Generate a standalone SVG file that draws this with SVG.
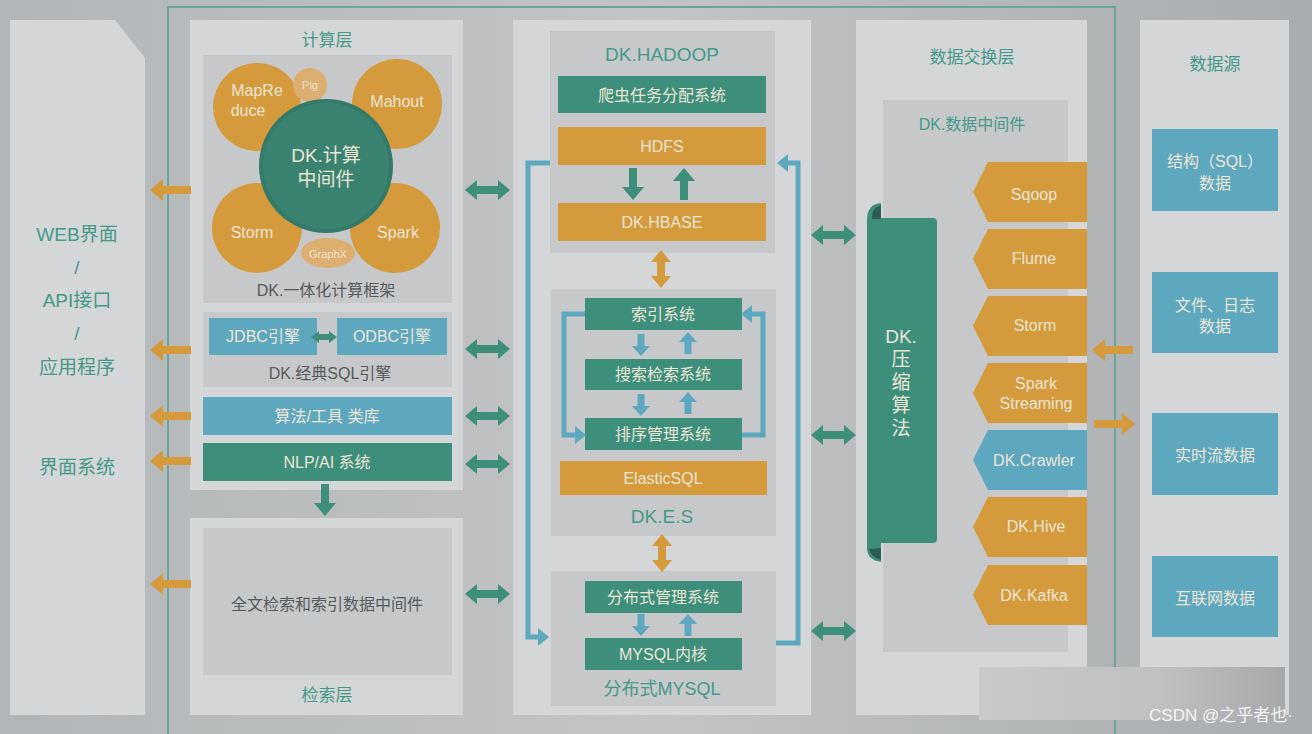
<svg xmlns="http://www.w3.org/2000/svg" width="1312" height="734" viewBox="0 0 1312 734">
<defs>
<linearGradient id="bg" x1="0" y1="0" x2="1" y2="0">
<stop offset="0" stop-color="#b3b6b8"/><stop offset="0.5" stop-color="#c2c4c5"/><stop offset="1" stop-color="#a9acae"/>
</linearGradient>
<linearGradient id="wm" x1="0" y1="0" x2="1" y2="0">
<stop offset="0" stop-color="#c9c9ca"/><stop offset="0.6" stop-color="#bfc0c1"/><stop offset="1" stop-color="#a6a8aa"/>
</linearGradient>
<path id="arrL" d="M0,0 L13,-11 L13,-4 L41,-4 L41,4 L13,4 L13,11 Z"/>
<path id="arrR" d="M0,0 L-13,-11 L-13,-4 L-41,-4 L-41,4 L-13,4 L-13,11 Z"/>
<path id="dbl" d="M0,0 L12,-10 L12,-4 L33,-4 L33,-10 L45,0 L33,10 L33,4 L12,4 L12,10 Z"/>
<path id="dblV" d="M0,0 L10,12 L4,12 L4,26 L10,26 L0,38 L-10,26 L-4,26 L-4,12 L-10,12 Z"/>
<path id="dn" d="M0,0 L-11,-13 L-4,-13 L-4,-32 L4,-32 L4,-13 L11,-13 Z"/>
<path id="up" d="M0,0 L-11,13 L-4,13 L-4,32 L4,32 L4,13 L11,13 Z"/>
<path id="sdn" d="M0,0 L-9,-10 L-3.5,-10 L-3.5,-22 L3.5,-22 L3.5,-10 L9,-10 Z"/>
<path id="sup" d="M0,0 L-9,10 L-3.5,10 L-3.5,22 L3.5,22 L3.5,10 L9,10 Z"/>
<path id="pent" d="M0,0 L15,-30 L114,-30 L114,30 L15,30 Z"/>
</defs>
<style>
text{font-family:"Liberation Sans","Noto Sans CJK SC",sans-serif;text-anchor:middle;dominant-baseline:central}
.panel{fill:#d5d6d7}
.sub{fill:#c6c8ca}
.teal{fill:#3e8e7c}
.org{fill:#d49a3b}
.blue{fill:#5ea8bf}
.tt{fill:#44998a;font-size:17px}
.lt{fill:#ece6d6;font-size:16px}
.dk{fill:#555a5c;font-size:16px}
.blueline{fill:none;stroke:#5ea8bf;stroke-width:5}
</style>
<rect width="1312" height="734" fill="url(#bg)"/>
<rect x="168" y="7" width="947" height="730" fill="none" stroke="#6aa59b" stroke-width="2"/>

<g id="left-panel">
<path class="panel" d="M10,20 L115,20 L145,58 L145,715 L10,715 Z"/>
<text x="77" y="234" class="tt" style="font-size:19px">WEB界面</text>
<text x="77" y="267" class="tt" style="font-size:19px">/</text>
<text x="77" y="300" class="tt" style="font-size:19px">API接口</text>
<text x="77" y="333" class="tt" style="font-size:19px">/</text>
<text x="77" y="367" class="tt" style="font-size:19px">应用程序</text>
<text x="77" y="467" class="tt" style="font-size:19px">界面系统</text>
</g>

<g id="compute-layer">
<rect class="panel" x="190" y="20" width="273" height="470"/>
<text x="327" y="40" class="tt">计算层</text>
<rect class="sub" x="203" y="55" width="249" height="248"/>
<circle class="org" cx="257" cy="107" r="44"/>
<circle class="org" cx="397" cy="104" r="45"/>
<circle class="org" cx="257" cy="228" r="45"/>
<circle class="org" cx="395" cy="228" r="45"/>
<circle cx="310" cy="85" r="17" fill="#dcae70"/>
<ellipse cx="328" cy="253" rx="27" ry="15" fill="#dcae70"/>
<circle cx="326" cy="166" r="67" fill="#347a68"/>
<circle cx="326" cy="166" r="63" fill="#3b8371"/>
<text x="257" y="90" class="lt">MapRe</text>
<text x="248" y="110" class="lt">duce</text>
<text x="310" y="85" style="fill:#efe3cc;font-size:11px">Pig</text>
<text x="397" y="101" class="lt">Mahout</text>
<text x="252" y="232" class="lt">Storm</text>
<text x="398" y="232" class="lt">Spark</text>
<text x="328" y="254" style="fill:#efe3cc;font-size:11px">GraphX</text>
<text x="326" y="155" class="lt" style="font-size:19px">DK.计算</text>
<text x="326" y="179" class="lt" style="font-size:19px">中间件</text>
<text x="326" y="290" class="dk">DK.一体化计算框架</text>
</g>

<g id="sql-engine">
<rect class="sub" x="203" y="312" width="249" height="75"/>
<rect class="blue" x="209" y="318" width="108" height="37"/>
<rect class="blue" x="337" y="318" width="110" height="37"/>
<text x="263" y="336" class="lt">JDBC引擎</text>
<text x="392" y="336" class="lt">ODBC引擎</text>
<text x="330" y="373" class="dk">DK.经典SQL引擎</text>
</g>

<g id="algo-lib">
<rect class="blue" x="203" y="397" width="249" height="38"/>
<text x="327" y="416" class="lt">算法/工具 类库</text>
</g>
<g id="nlp-ai">
<rect class="teal" x="203" y="443" width="249" height="38"/>
<text x="327" y="462" class="lt">NLP/AI  系统</text>
</g>

<g id="search-layer">
<rect class="panel" x="190" y="518" width="273" height="197"/>
<rect class="sub" x="203" y="528" width="249" height="147"/>
<text x="327" y="604" class="dk">全文检索和索引数据中间件</text>
<text x="327" y="695" class="tt">检索层</text>
</g>

<g id="storage">
<rect class="panel" x="513" y="20" width="298" height="695"/>
<rect class="sub" x="550" y="31" width="225" height="222"/>
<text x="662" y="54" class="tt" style="font-size:19px">DK.HADOOP</text>
<rect class="teal" x="558" y="76" width="208" height="37"/>
<text x="662" y="95" class="lt">爬虫任务分配系统</text>
<rect class="org" x="558" y="127" width="208" height="38"/>
<text x="662" y="146" class="lt">HDFS</text>
<rect class="org" x="558" y="203" width="208" height="38"/>
<text x="662" y="222" class="lt">DK.HBASE</text>

<rect class="sub" x="551" y="289" width="225" height="247"/>
<rect class="teal" x="585" y="298" width="157" height="32"/>
<text x="663" y="314" class="lt">索引系统</text>
<rect class="teal" x="585" y="359" width="157" height="31"/>
<text x="663" y="374" class="lt">搜索检索系统</text>
<rect class="teal" x="585" y="418" width="157" height="32"/>
<text x="663" y="434" class="lt">排序管理系统</text>
<rect class="org" x="560" y="461" width="207" height="34"/>
<text x="663" y="478" class="lt">ElasticSQL</text>
<text x="662" y="516" class="tt" style="font-size:19px">DK.E.S</text>

<rect class="sub" x="551" y="571" width="225" height="135"/>
<rect class="teal" x="585" y="581" width="157" height="32"/>
<text x="663" y="597" class="lt">分布式管理系统</text>
<rect class="teal" x="585" y="638" width="157" height="32"/>
<text x="663" y="654" class="lt">MYSQL内核</text>
<text x="662" y="689" class="tt" style="font-size:18px">分布式MYSQL</text>
</g>

<g id="exchange-layer">
<rect class="panel" x="856" y="20" width="231" height="695"/>
<text x="972" y="57" class="tt">数据交换层</text>
<rect class="sub" x="883" y="100" width="185" height="552"/>
<text x="972" y="124" class="tt" style="font-size:16px">DK.数据中间件</text>
<g id="compress">
<rect class="teal" x="867" y="218" width="70" height="325" rx="4"/>
<path class="teal" d="M867,220 Q867,204 881,203 L881,540 L881,562 Q867,560 867,548 Z"/>
<path d="M872,219 Q871,208 881,205 L881,219 Z" fill="#2c5c55"/>
<path d="M869,549 Q871,557 881,560 L881,548 Z" fill="#2c5c55"/>
<text x="901" y="336" class="lt" style="font-size:19px">DK.</text>
<text x="901" y="359" class="lt" style="font-size:19px">压</text>
<text x="901" y="382" class="lt" style="font-size:19px">缩</text>
<text x="901" y="405" class="lt" style="font-size:19px">算</text>
<text x="901" y="428" class="lt" style="font-size:19px">法</text>
</g>
<g id="sqoop"><use href="#pent" class="org" x="973" y="192"/><text x="1034" y="194" class="lt">Sqoop</text></g>
<g id="flume"><use href="#pent" class="org" x="973" y="259"/><text x="1034" y="258" class="lt">Flume</text></g>
<g id="storm"><use href="#pent" class="org" x="973" y="326"/><text x="1035" y="325" class="lt">Storm</text></g>
<g id="spark-streaming"><use href="#pent" class="org" x="973" y="393"/><text x="1036" y="383" class="lt">Spark</text><text x="1036" y="403" class="lt">Streaming</text></g>
<g id="crawler"><use href="#pent" class="blue" x="973" y="460"/><text x="1034" y="460" class="lt">DK.Crawler</text></g>
<g id="hive"><use href="#pent" class="org" x="973" y="527"/><text x="1036" y="526" class="lt">DK.Hive</text></g>
<g id="kafka"><use href="#pent" class="org" x="973" y="595"/><text x="1034" y="595" class="lt">DK.Kafka</text></g>
</g>

<g id="data-source">
<rect class="panel" x="1140" y="20" width="149" height="695"/>
<text x="1215" y="64" class="tt">数据源</text>
<rect class="blue" x="1152" y="129" width="126" height="82"/>
<text x="1215" y="161" class="lt">结构（SQL）</text>
<text x="1215" y="183" class="lt">数据</text>
<rect class="blue" x="1152" y="272" width="126" height="81"/>
<text x="1215" y="305" class="lt">文件、日志</text>
<text x="1215" y="326" class="lt">数据</text>
<rect class="blue" x="1152" y="413" width="126" height="82"/>
<text x="1215" y="455" class="lt">实时流数据</text>
<rect class="blue" x="1152" y="556" width="126" height="81"/>
<text x="1215" y="598" class="lt">互联网数据</text>
</g>

<g id="connectors">
<g class="org">
<use href="#arrL" x="150" y="190"/>
<use href="#arrL" x="150" y="350"/>
<use href="#arrL" x="150" y="416"/>
<use href="#arrL" x="150" y="461"/>
<use href="#arrL" x="150" y="584"/>
<use href="#arrL" x="1092" y="350"/>
<use href="#arrR" x="1135" y="424"/>
<use href="#dblV" x="661" y="250"/>
<use href="#dblV" x="662" y="534"/>
</g>
<g class="teal">
<use href="#dbl" x="465" y="190"/>
<use href="#dbl" x="465" y="349"/>
<use href="#dbl" x="465" y="416"/>
<use href="#dbl" x="465" y="464"/>
<use href="#dbl" x="465" y="594"/>
<use href="#dbl" x="811" y="235"/>
<use href="#dbl" x="811" y="435"/>
<use href="#dbl" x="811" y="631"/>
<path d="M311,337 L319,331 L319,334 L329,334 L329,331 L337,337 L329,343 L329,340 L319,340 L319,343 Z"/>
<use href="#dn" x="325" y="516"/>
<use href="#dn" x="633" y="200"/>
<use href="#up" x="684" y="168"/>
</g>
<g class="blue">
<use href="#sdn" x="641" y="356"/>
<use href="#sup" x="688" y="332"/>
<use href="#sdn" x="641" y="416"/>
<use href="#sup" x="688" y="392"/>
<use href="#sdn" x="641" y="636"/>
<use href="#sup" x="688" y="614"/>
</g>
<path class="blueline" d="M585,314 L564,314 L564,435 L576,435"/>
<path class="blueline" d="M742,435 L763,435 L763,314 L752,314"/>
<path class="blueline" d="M550,163 L528,163 L528,637 L539,637"/>
<path class="blueline" d="M776,643 L798,643 L798,163 L788,163"/>
<g class="blue">
<path d="M586,435 L575,426 L575,444 Z"/>
<path d="M741,314 L752,305 L752,323 Z"/>
<path d="M549,637 L538,628 L538,646 Z"/>
<path d="M777,163 L788,154 L788,172 Z"/>
</g>
</g>

<g id="watermark">
<rect x="979" y="667" width="306" height="53" fill="url(#wm)"/>
<text x="1221" y="715" style="fill:#f4f4f4;font-size:17px">CSDN @之乎者也·</text>
</g>
</svg>
